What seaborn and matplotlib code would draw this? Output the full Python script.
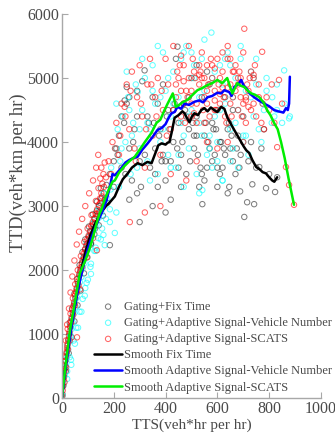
import matplotlib
matplotlib.use("Agg")
import matplotlib.pyplot as plt
import seaborn as sns
import pandas as pd

# scatter: Gating+Fix Time
fix_tts = [2, 5, 8, 11, 14, 18, 21, 25, 29, 33, 30, 38, 42, 39, 47, 52, 48, 57, 62, 58,
           67, 72, 68, 78, 84, 79, 90, 96, 90, 103, 110, 104, 118, 126, 119, 134, 143, 135, 152, 162,
           150, 172, 112, 125, 142, 158, 175, 300, 185,
           185, 200, 210, 220, 230, 240, 250, 260, 270, 280, 290, 300, 310, 319, 260, 290,
           330, 340, 350, 360, 370, 380, 390, 400, 410, 420, 430, 440, 446, 450, 350, 400,
           460, 470, 480, 490, 500, 510, 520, 530, 540, 542, 550, 560, 570, 580, 590, 600, 600, 520, 560,
           610, 620, 630, 640, 646, 650, 660, 670, 680, 688, 690, 700, 704,
           715, 720, 730, 735, 742, 750, 762, 770, 788, 800, 823, 831, 780, 250, 242]
fix_ttd = [60, 190, 330, 460, 590, 700, 820, 920, 1010, 1110, 1180, 1240, 1330, 1400, 1470, 1560, 1630, 1700, 1790, 1860,
           1920, 2010, 2080, 2120, 2200, 2280, 2330, 2410, 2480, 2520, 2610, 2680, 2720, 2800, 2870, 2920, 3000, 3070, 3120, 3200,
           3280, 3330, 2420, 2560, 2700, 2850, 3050, 2750, 2390,
           3500, 3700, 3900, 4100, 3600, 4300, 4600, 3900, 3400, 4200, 4800, 3700, 4950, 5120, 3100, 3200,
           4400, 3600, 4700, 3900, 3300, 4200, 4900, 3700, 4500, 3100, 4000, 5300, 5490, 4300, 3000, 2900,
           3800, 4600, 3500, 4200, 5000, 3900, 4400, 3300, 4700, 3030, 4100, 3600, 4900, 4300, 3800, 3300, 4500, 5200, 5100,
           4000, 3600, 4700, 4200, 3300, 3900, 4500, 3500, 4100, 3230, 3800, 4400, 2830,
           3060, 3700, 4000, 3340, 3030, 3600, 3610, 3900, 3280, 3500, 3220, 3450, 4200, 4860, 4650]
fix_more_tts = [360, 375, 390, 405, 420, 435, 450, 465, 480, 495, 510, 525, 540, 555, 570, 585, 600, 615, 630, 645,
                660, 675, 355, 385, 415, 445, 475, 505, 535, 565, 595, 625, 655, 685, 370, 400, 430, 460, 490, 520,
                550, 580, 610, 640, 200, 215, 230, 245, 260, 275, 290, 305, 320, 335,
                15, 26, 37, 48, 60, 72, 85, 98, 112, 128, 145, 165]
fix_more_ttd = [3500, 4100, 3800, 4400, 3700, 4600, 3600, 4000, 4400, 3700, 4100, 3800, 3500, 4300, 3900, 4200, 3600, 4000, 3800, 4300,
                3700, 3900, 4300, 3700, 4200, 3900, 4500, 4300, 3600, 4000, 4200, 3900, 4100, 3600, 4600, 3400, 4500, 3300, 4700, 4100,
                3400, 3700, 3500, 3200, 3300, 3800, 4400, 3500, 4700, 4000, 4400, 3300, 3800, 4300,
                420, 700, 950, 1200, 1450, 1680, 1950, 2200, 2400, 2650, 2900, 3100]

# scatter: Gating+Adaptive Signal-Vehicle Number
vn_tts = [3, 7, 11, 15, 19, 24, 28, 33, 37, 42, 40, 48, 53, 49, 58, 64, 60, 69, 75, 70,
          80, 87, 81, 93, 100, 94, 107, 115, 108, 124, 133, 124, 143, 152, 142, 162, 175, 160, 188, 204,
          165, 150, 112, 90, 36, 130,
          190, 205, 215, 225, 235, 245, 255, 265, 275, 285, 292, 300, 310, 320, 330, 340, 350, 360, 370, 380,
          390, 400, 410, 420, 430, 440, 450, 460, 470, 480, 490, 500, 510, 520, 530, 540, 542, 550, 560, 570,
          577, 580, 590, 600, 610, 620, 630, 640, 650, 660, 670, 680, 690, 700, 710, 720, 730, 740, 750, 760,
          775, 790, 812, 830, 858, 877, 880, 850, 620, 680]
vn_ttd = [40, 220, 360, 500, 630, 760, 880, 980, 1080, 1180, 1260, 1330, 1420, 1500, 1570, 1660, 1740, 1810, 1890, 1970,
          2030, 2110, 2180, 2240, 2320, 2400, 2450, 2520, 2590, 2630, 2710, 2780, 2820, 2900, 2970, 3040, 3120, 3200, 3260, 2580,
          2390, 2480, 1940, 1720, 520, 2300,
          3600, 3900, 4200, 3700, 4400, 4000, 4700, 3500, 4300, 4900, 4780, 3900, 4500, 5000, 3700, 4200, 5200, 4600, 3500, 4000,
          5400, 4800, 3800, 4400, 5100, 3600, 4700, 5300, 4100, 5500, 3900, 4500, 5000, 3500, 4300, 5300, 3250, 4800, 3800, 4100,
          5710, 5000, 4400, 3700, 5200, 3400, 4600, 5400, 4200, 3900, 5000, 4500, 5300, 4100, 4800, 3800, 5100, 4400, 4900, 4200,
          4600, 5000, 4700, 4500, 5120, 4370, 4400, 4300, 3400, 3600]
vn_more_tts = [210, 230, 250, 270, 290, 310, 330, 350, 370, 390, 410, 430, 450, 470, 490, 510, 530, 550, 570, 590,
               610, 630, 650, 670, 690, 710, 730, 750, 770, 790, 810, 830, 220, 260, 300, 340, 380, 420, 460, 500,
               540, 580, 620, 660, 700, 740, 780, 820, 860, 470, 530, 600, 650,
               20, 30, 45, 55, 68, 80, 95, 110, 125, 140, 155, 170, 185,
               20, 35, 50, 62, 75, 88, 100, 112, 130, 160, 185, 210]
vn_more_ttd = [4600, 3900, 5100, 4100, 3600, 5300, 4300, 4800, 5500, 4200, 5000, 4600, 3800, 5400, 4400, 5200, 4700, 5600, 3900, 5100,
               4500, 5300, 3700, 4300, 5500, 4100, 4700, 5300, 4000, 4800, 4300, 4900, 3300, 4500, 4200, 3400, 4700, 3600, 4300, 5400,
               4100, 3600, 4900, 4700, 4000, 5000, 4500, 4400, 4600, 3300, 3200, 4000, 5200,
               420, 640, 900, 1100, 1350, 1550, 1800, 2050, 2300, 2500, 2650, 2800, 2950,
               300, 600, 850, 1100, 1350, 1600, 1850, 2100, 2350, 2550, 2750, 2900]

# scatter: Gating+Adaptive Signal-SCATS
sc_tts = [1, 3, 4, 6, 7, 9, 12, 13, 15, 18, 20, 22, 24, 27, 29, 22, 31, 34, 37, 33,
          40, 44, 47, 42, 50, 54, 57, 51, 60, 64, 68, 61, 72, 76, 80, 73, 84, 89, 94, 86,
          98, 103, 108, 99, 113, 119, 125, 114, 130, 136, 142, 131, 147, 152, 141, 156, 148, 160, 152, 165,
          58, 135, 262, 70, 95, 120,
          180, 195, 210, 220, 230, 242, 250, 260, 270, 280, 290, 300, 310, 320, 330, 340, 350, 360, 370, 380,
          390, 400, 410, 420, 430, 440, 450, 460, 470, 480, 490, 500, 510, 520, 530, 540, 550, 560, 570, 580,
          590, 600, 610, 620, 630, 640, 650, 660, 670, 680, 690, 700, 704, 710, 720, 730, 740, 750, 760, 773,
          780, 790, 800, 810, 820, 831, 838, 850, 865, 877, 896, 480, 420, 560, 640, 600, 520, 700, 380, 320,
          470, 500, 530, 560, 590, 620, 650, 680, 710, 740, 460, 510, 550, 610, 660, 720, 590, 640, 690, 540]
sc_ttd = [30, 120, 200, 280, 350, 420, 500, 580, 640, 720, 780, 850, 900, 980, 1040, 1080, 1120, 1200, 1260, 1320,
          1380, 1440, 1500, 1560, 1600, 1660, 1720, 1780, 1820, 1880, 1950, 2000, 2040, 2100, 2160, 2220, 2260, 2320, 2380, 2440,
          2480, 2540, 2600, 2650, 2690, 2750, 2810, 2860, 2880, 2950, 3020, 3080, 3120, 3200, 3280, 3350, 3430, 3500, 3600, 3680,
          950, 2310, 2750, 1700, 2200, 2500,
          3700, 4000, 4300, 3800, 4600, 4550, 4900, 4200, 5100, 3900, 4700, 5200, 4400, 3600, 4900, 5300, 4100, 4700, 5000, 3800,
          4500, 5300, 4900, 4200, 5500, 4700, 5000, 4400, 5200, 4800, 5500, 4600, 5100, 4300, 4900, 5400, 4700, 5200, 4400, 5000,
          4800, 5300, 4600, 5100, 4400, 5500, 4900, 4700, 5200, 4500, 5000, 5400, 5770, 4300, 4800, 5100, 4600, 4400, 4900, 5410,
          4200, 4700, 4500, 4900, 4300, 3920, 4970, 4600, 3610, 3330, 3020, 3400, 3500, 4000, 4000, 3900, 3700, 4000, 3000, 2900,
          4950, 4800, 5050, 4600, 5150, 4850, 5300, 4900, 4650, 5050, 5350, 4450, 5000, 4750, 5100, 4550, 4650, 4850, 4700, 5000]
sc_more_tts = [430, 445, 460, 475, 490, 505, 520, 535, 550, 565, 580, 595, 610, 625, 640, 655, 670, 685, 700, 715,
               730, 745, 760, 775, 440, 470, 500, 530, 560, 590, 620, 650, 680, 710, 740, 770, 455, 485, 515, 545,
               575, 605, 635, 665, 695, 725, 190, 205, 225, 245, 265, 285, 305, 325, 345, 365, 385, 405,
               10, 16, 23, 30, 36, 43, 50, 57, 64, 71, 78, 85, 92, 99, 106, 113, 120, 127, 134, 141, 148, 155, 162, 170,
               5, 10, 15, 20, 27, 33, 40, 48, 57, 66, 78, 90, 105, 120, 132, 140]
sc_more_ttd = [4500, 5100, 4800, 4300, 5000, 5300, 4600, 5100, 4300, 4900, 5200, 4500, 5000, 4700, 5300, 4400, 4800, 5100, 4600, 4900,
               4500, 5200, 4700, 4600, 4900, 4600, 4400, 5200, 4800, 4500, 5400, 4600, 5000, 4700, 5000, 4300, 5200, 4700, 5000, 4500,
               5300, 4900, 4300, 5100, 4400, 5000, 3500, 3900, 4100, 4400, 4800, 3700, 4600, 4200, 4900, 4400, 4800, 4100,
               250, 480, 760, 900, 1180, 1300, 1450, 1650, 1760, 1980, 2050, 2180, 2280, 2420, 2500, 2560, 2700, 2730, 2850, 2900,
               3050, 3150, 3300, 3450,
               400, 650, 900, 1150, 1400, 1650, 1900, 2150, 2400, 2600, 2800, 3000, 3200, 3400, 3600, 3800]

# smoothed curves
fix_line_tts = [0, 8, 20, 35, 50, 65, 80, 95, 110, 125, 140, 155, 170, 185, 204, 220, 235, 254, 270, 292,
                310, 330, 346, 360, 372, 385, 400, 408, 415, 423, 435, 450, 465, 473, 482, 492, 502, 512, 525, 538,
                550, 562, 575, 588, 600, 615, 627, 638, 650, 665, 678, 692, 702, 712, 723, 735, 750, 762, 775, 788,
                800, 812, 820, 831]
fix_line_ttd = [0, 300, 700, 1100, 1450, 1800, 2100, 2350, 2550, 2700, 2820, 2920, 3000, 3060, 3150, 3300, 3420, 3510, 3600, 3670,
                3640, 3690, 3670, 3820, 3950, 3980, 3960, 3990, 4000, 4140, 4380, 4420, 4480, 4450, 4380, 4310, 4400, 4450, 4420, 4500,
                4530, 4480, 4540, 4500, 4470, 4550, 4520, 4390, 4300, 4190, 4100, 4000, 3930, 3870, 3830, 3720, 3610, 3580, 3530, 3510,
                3450, 3400, 3380, 3450]

vn_line_tts = [0, 10, 25, 40, 55, 70, 85, 100, 115, 130, 145, 160, 172, 185, 195, 204, 215, 230, 245, 260,
               275, 292, 310, 331, 350, 369, 385, 400, 412, 423, 435, 446, 460, 473, 490, 512, 530, 545, 562, 580,
               600, 615, 627, 646, 655, 665, 680, 692, 702, 712, 725, 742, 760, 781, 800, 819, 835, 846, 855, 865,
               872, 877, 880]
vn_line_ttd = [0, 350, 800, 1200, 1550, 1850, 2100, 2330, 2520, 2680, 2820, 2960, 3090, 3300, 3500, 3480, 3530, 3600, 3680, 3720,
               3750, 3770, 3880, 3980, 4080, 4190, 4220, 4280, 4380, 4450, 4470, 4550, 4520, 4600, 4580, 4630, 4650, 4620, 4700, 4720,
               4770, 4760, 4810, 4780, 4720, 4860, 4900, 4970, 4880, 4840, 4760, 4700, 4650, 4600, 4560, 4500, 4480, 4470, 4460, 4530,
               4500, 4600, 5020]

sc_line_tts = [0, 4, 15, 31, 50, 69, 90, 108, 122, 135, 145, 152, 165, 180, 195, 204, 220, 240, 260, 281,
               300, 320, 345, 365, 380, 396, 408, 418, 428, 440, 452, 465, 485, 500, 523, 540, 562, 580, 600, 619,
               638, 658, 677, 690, 704, 718, 731, 745, 762, 778, 792, 805, 819, 833, 846, 860, 875, 896]
sc_line_ttd = [0, 170, 550, 1060, 1500, 1950, 2150, 2350, 2550, 2750, 2880, 2940, 3100, 3250, 3380, 3400, 3520, 3620, 3700, 3770,
               3880, 4000, 4140, 4300, 4350, 4500, 4600, 4680, 4760, 4550, 4580, 4620, 4660, 4720, 4810, 4840, 4890, 4920, 4970, 4920,
               5000, 4760, 4920, 4880, 4860, 4800, 4760, 4740, 4700, 4620, 4500, 4420, 4300, 4200, 4000, 3750, 3430, 3020]

sns.set_style("ticks")
plt.rcParams["font.family"] = ["Liberation Serif", "DejaVu Serif"]
txt = "#4a4a4a"

fig = plt.figure(figsize=(3.35, 4.38), dpi=100)
ax = fig.add_axes([0.185, 0.091, 0.773, 0.877])

scatters = [
    (fix_tts + fix_more_tts, fix_ttd + fix_more_ttd, "k", 0.5, "Gating+Fix Time"),
    (vn_tts + vn_more_tts, vn_ttd + vn_more_ttd, "#00ffff", 0.6, "Gating+Adaptive Signal-Vehicle Number"),
    (sc_tts + sc_more_tts, sc_ttd + sc_more_ttd, "#ff0000", 0.6, "Gating+Adaptive Signal-SCATS"),
]
for xs, ys, c, a, lab in scatters:
    df = pd.DataFrame({"TTS": xs, "TTD": ys})
    sns.scatterplot(data=df, x="TTS", y="TTD", ax=ax, s=15, alpha=a, label=lab, color=c)
    coll = ax.collections[-1]
    coll.set_facecolor("none")
    coll.set_edgecolor(c)
    coll.set_linewidth(0.75)

lines = [
    (fix_line_tts, fix_line_ttd, "k", "Smooth Fix Time"),
    (vn_line_tts, vn_line_ttd, "#0000ff", "Smooth Adaptive Signal-Vehicle Number"),
    (sc_line_tts, sc_line_ttd, "#00ee00", "Smooth Adaptive Signal-SCATS"),
]
for xs, ys, c, lab in lines:
    df = pd.DataFrame({"TTS": xs, "TTD": ys})
    sns.lineplot(data=df, x="TTS", y="TTD", ax=ax, sort=False, estimator=None,
                 color=c, linewidth=1.8, label=lab)

ax.set_xlim(0, 1000)
ax.set_ylim(0, 6000)
ax.set_xticks(range(0, 1001, 200))
ax.set_yticks(range(0, 6001, 1000))
for side in ["top", "right"]:
    ax.spines[side].set_visible(False)
for side in ["left", "bottom"]:
    ax.spines[side].set_color("#a8a8a8")
    ax.spines[side].set_linewidth(1.0)
ax.tick_params(direction="in", length=4, color="#a8a8a8", labelsize=11.5, labelcolor=txt, pad=2)
ax.set_xlabel("TTS(veh*hr per hr)", fontsize=11, color=txt, labelpad=1)
ax.set_ylabel("TTD(veh*km per hr)", fontsize=13.5, color=txt)
ax.yaxis.set_label_coords(-0.135, 0.586)

leg = ax.legend(loc="lower left", bbox_to_anchor=(0.125, 0.012), frameon=False,
                fontsize=9, handlelength=2.2, handletextpad=0.2, labelspacing=0.33,
                borderpad=0, borderaxespad=0, markerscale=1.0)
for t in leg.get_texts():
    t.set_color(txt)

fig.savefig("out.png", dpi=100)
